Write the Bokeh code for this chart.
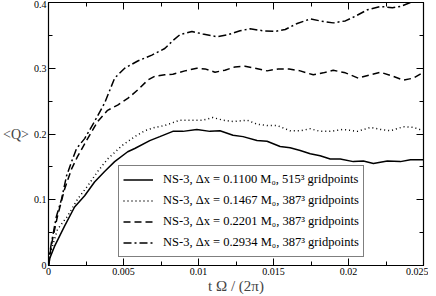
from bokeh.plotting import figure
from bokeh.models import (Range1d, LinearAxis, Legend, LegendItem, FixedTicker,
                          NumeralTickFormatter, CustomJSTickFormatter)
from bokeh.embed import file_html
from bokeh.resources import INLINE

# ---- data ----
t_1100 = [0, 0.0001, 0.0004, 0.00107, 0.00174, 0.00241, 0.00307, 0.00374, 0.00441, 0.00528,
          0.00575, 0.00675, 0.00742, 0.00829, 0.00896, 0.00989, 0.01076, 0.01143, 0.0123, 0.01297,
          0.0139, 0.01457, 0.01544, 0.01611, 0.01678, 0.01745, 0.01811, 0.01878, 0.01945, 0.02032,
          0.02099, 0.02166, 0.02259, 0.02346, 0.02413, 0.025]
q_1100 = [0, 0.012, 0.029, 0.060, 0.089, 0.106, 0.127, 0.143, 0.158, 0.173,
          0.178, 0.190, 0.196, 0.204, 0.204, 0.207, 0.204, 0.205, 0.198, 0.196,
          0.190, 0.189, 0.181, 0.179, 0.175, 0.170, 0.167, 0.162, 0.162, 0.158,
          0.159, 0.155, 0.159, 0.158, 0.161, 0.161]

t_1467 = [0, 0.0002, 0.0006, 0.00127, 0.00194, 0.00261, 0.00328, 0.00394, 0.00488, 0.00575,
          0.00642, 0.00709, 0.00775, 0.00876, 0.00963, 0.01029, 0.01096, 0.01163, 0.0123, 0.01324,
          0.0139, 0.01457, 0.01524, 0.01611, 0.01678, 0.01745, 0.01811, 0.01878, 0.01965, 0.02059,
          0.02146, 0.02213, 0.02279, 0.02366, 0.02433, 0.025]
q_1467 = [0, 0.0245, 0.055, 0.075, 0.101, 0.121, 0.143, 0.162, 0.182, 0.196,
          0.205, 0.210, 0.213, 0.221, 0.221, 0.221, 0.225, 0.221, 0.219, 0.221,
          0.215, 0.213, 0.213, 0.205, 0.205, 0.208, 0.204, 0.204, 0.207, 0.204,
          0.210, 0.207, 0.205, 0.211, 0.210, 0.205]

t_2201 = [0, 0.00007, 0.00027, 0.0006, 0.00107, 0.00154, 0.00194, 0.00261, 0.00328, 0.00394,
          0.00461, 0.00528, 0.00595, 0.00662, 0.00709, 0.00775, 0.00829, 0.00909, 0.00989, 0.01043,
          0.0111, 0.01176, 0.01243, 0.0131, 0.01377, 0.01457, 0.01531, 0.01604, 0.01678, 0.01765,
          0.01832, 0.01898, 0.01979, 0.02065, 0.02146, 0.02213, 0.02293, 0.02366, 0.02433, 0.025]
q_2201 = [0, 0.014, 0.040, 0.075, 0.116, 0.147, 0.166, 0.193, 0.219, 0.236,
          0.244, 0.254, 0.267, 0.282, 0.288, 0.290, 0.291, 0.296, 0.300, 0.299,
          0.294, 0.297, 0.302, 0.303, 0.300, 0.296, 0.299, 0.299, 0.296, 0.290,
          0.293, 0.297, 0.293, 0.285, 0.290, 0.294, 0.288, 0.282, 0.285, 0.294]

t_2934 = [0, 0.00007, 0.0002, 0.00053, 0.00087, 0.0012, 0.00154, 0.00187, 0.00241, 0.00307,
          0.00374, 0.00441, 0.00508, 0.00595, 0.00689, 0.00775, 0.00829, 0.00876, 0.00956, 0.01029,
          0.01123, 0.01197, 0.01277, 0.01344, 0.0143, 0.01511, 0.01578, 0.01658, 0.01745, 0.01811,
          0.01898, 0.01979, 0.02045, 0.02126, 0.02213, 0.02293, 0.02346, 0.02413, 0.025]
q_2934 = [0, 0.017, 0.035, 0.075, 0.101, 0.136, 0.158, 0.178, 0.193, 0.219,
          0.247, 0.285, 0.300, 0.311, 0.320, 0.330, 0.342, 0.351, 0.356, 0.352,
          0.348, 0.351, 0.357, 0.360, 0.357, 0.356, 0.359, 0.368, 0.375, 0.372,
          0.369, 0.372, 0.379, 0.389, 0.394, 0.392, 0.394, 0.400, 0.406]

labels = ["NS-3, \u0394x = 0.1100 M\u2080, 515\u00b3 gridpoints",
          "NS-3, \u0394x = 0.1467 M\u2080, 387\u00b3 gridpoints",
          "NS-3, \u0394x = 0.2201 M\u2080, 387\u00b3 gridpoints",
          "NS-3, \u0394x = 0.2934 M\u2080, 387\u00b3 gridpoints"]

x_ticks = [0, 0.005, 0.01, 0.015, 0.02, 0.025]
x_minor = [0.0025, 0.0075, 0.0125, 0.0175, 0.0225]
y_ticks = [0, 0.1, 0.2, 0.3, 0.4]
y_minor = [0.05, 0.15, 0.25, 0.35]

FONT = "'Liberation Serif'"

p = figure(width=428, height=296, output_backend="svg", toolbar_location=None,
           x_range=Range1d(0, 0.025), y_range=Range1d(0, 0.4),
           min_border_left=0, min_border_right=5, min_border_top=2, min_border_bottom=0)
p.xgrid.visible = False
p.ygrid.visible = False
p.outline_line_color = "black"
p.outline_line_width = 1.2
p.background_fill_color = "white"
p.border_fill_color = "white"

def style_axis(ax, ticks, minor, fmt, show_labels=True):
    ax.ticker = FixedTicker(ticks=ticks, minor_ticks=minor)
    ax.major_tick_in = 7
    ax.major_tick_out = 0
    ax.minor_tick_in = 4
    ax.minor_tick_out = 0
    ax.axis_line_color = "black"
    ax.major_tick_line_color = "black"
    ax.minor_tick_line_color = "black"
    ax.major_label_text_font = FONT
    ax.major_label_text_font_size = "10px"
    ax.major_label_text_color = "black"
    ax.major_label_standoff = 2
    if show_labels:
        ax.formatter = NumeralTickFormatter(format=fmt)
    else:
        ax.formatter = CustomJSTickFormatter(code="return ''")
        ax.major_label_standoff = 0

xa = p.xaxis[0]
ya = p.yaxis[0]
style_axis(xa, x_ticks, x_minor, "0.[000]")
style_axis(ya, y_ticks, y_minor, "0.[0]")
xa.axis_label = "t \u03a9 / (2\u03c0)"
xa.axis_label_text_font = FONT
xa.axis_label_text_font_style = "normal"
xa.axis_label_text_font_size = "15px"
xa.axis_label_standoff = 0
ya.axis_label = "<Q>"
ya.axis_label_orientation = "horizontal"
ya.axis_label_text_font = FONT
ya.axis_label_text_font_style = "normal"
ya.axis_label_text_font_size = "14px"
ya.axis_label_standoff = 2

top = LinearAxis()
style_axis(top, x_ticks, x_minor, None, show_labels=False)
p.add_layout(top, "above")
right = LinearAxis()
style_axis(right, y_ticks, y_minor, None, show_labels=False)
p.add_layout(right, "right")

r1 = p.line(t_1100, q_1100, line_color="black", line_width=1.5)
r2 = p.line(t_1467, q_1467, line_color="black", line_width=1.5, line_dash="1 3")
r3 = p.line(t_2201, q_2201, line_color="black", line_width=1.5, line_dash="7 4")
r4 = p.line(t_2934, q_2934, line_color="black", line_width=1.5, line_dash="8 3 2 3")

legend = Legend(items=[LegendItem(label=labels[0], renderers=[r1]),
                       LegendItem(label=labels[1], renderers=[r2]),
                       LegendItem(label=labels[2], renderers=[r3]),
                       LegendItem(label=labels[3], renderers=[r4])],
                location=(70, 8))
legend.label_text_font = FONT
legend.label_text_font_size = "12.5px"
legend.label_text_color = "black"
legend.border_line_color = "black"
legend.border_line_width = 1
legend.background_fill_alpha = 1
legend.glyph_width = 30
legend.glyph_height = 19
legend.label_height = 19
legend.spacing = 2
legend.padding = 4
legend.margin = 0
legend.label_standoff = 10
p.add_layout(legend)

open("out.html", "w").write(file_html(p, INLINE))
